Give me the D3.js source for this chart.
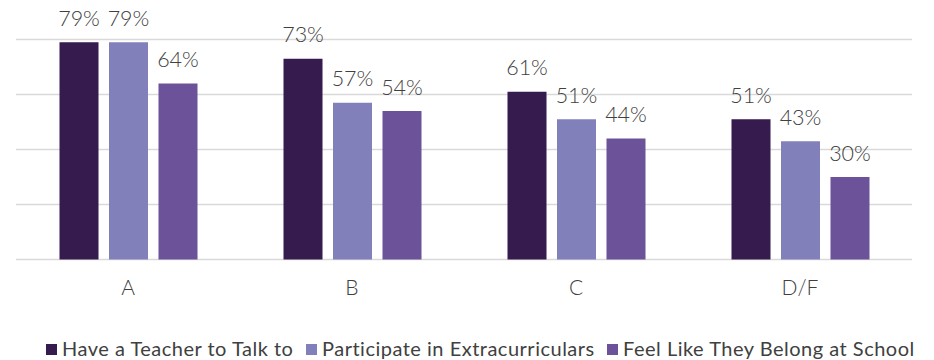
<!DOCTYPE html>
<html>
<head>
<meta charset="utf-8">
<script src="https://cdn.jsdelivr.net/npm/d3@7"></script>
<style>
  html, body { margin: 0; padding: 0; background: #fff; }
  svg { display: block; font-family: Lato, "Open Sans", sans-serif; }
</style>
</head>
<body>
<svg id="chart" width="934" height="360"></svg>
<script>
// Grade groups and the three survey measures (percent of students)
const grades = ["A", "B", "C", "D/F"];
const seriesNames = ["Have a Teacher to Talk to", "Participate in Extracurriculars", "Feel Like They Belong at School"];
const teacher = [79, 73, 61, 51];
const extracurriculars = [79, 57, 51, 43];
const belong = [64, 54, 44, 30];
const gridTicks = [0, 20, 40, 60, 80];
const colors = ["#361b4f", "#8280bb", "#6b5299"];

const seriesValues = [teacher, extracurriculars, belong];

const svg = d3.select("#chart");
const plot = { left: 16, right: 912, top: 39.5, bottom: 259.5 };
const groupWidth = 138;

const x0 = d3.scaleBand().domain(grades).range([plot.left, plot.right]);
const x1 = d3.scaleBand().domain(d3.range(seriesNames.length))
  .range([0, groupWidth]).paddingInner(0.212).paddingOuter(0);
const y = d3.scaleLinear().domain([0, 80]).range([plot.bottom, plot.top]);

// Horizontal gridlines
svg.append("g")
  .selectAll("line")
  .data(gridTicks)
  .join("line")
  .attr("x1", plot.left).attr("x2", plot.right)
  .attr("y1", d => y(d)).attr("y2", d => y(d))
  .attr("stroke", "#d9d9d9")
  .attr("stroke-width", 1.3);

// Bars with value labels
const groups = svg.append("g")
  .selectAll("g")
  .data(grades)
  .join("g")
  .attr("transform", g => `translate(${x0(g) + x0.bandwidth() / 2 - groupWidth / 2 + 0.5},0)`);

const cells = (g, gi) => seriesValues.map((vals, si) => ({ si, v: vals[gi] }));

groups.selectAll("rect")
  .data(cells)
  .join("rect")
  .attr("x", d => x1(d.si))
  .attr("width", x1.bandwidth())
  .attr("y", d => y(d.v))
  .attr("height", d => y(0) - y(d.v))
  .attr("fill", d => colors[d.si]);

groups.selectAll("text")
  .data(cells)
  .join("text")
  .attr("x", d => x1(d.si) + x1.bandwidth() / 2)
  .attr("y", d => y(d.v) - 16.5)
  .attr("text-anchor", "middle")
  .attr("font-size", 21.5)
  .attr("font-weight", 300)
  .attr("fill", "#404040")
  .text(d => d.v + "%");

// Category axis labels
const xAxis = d3.axisBottom(x0).tickSize(0).tickPadding(0);
const axisG = svg.append("g")
  .attr("transform", `translate(0,${plot.bottom})`)
  .call(xAxis);
axisG.select(".domain").remove();
axisG.selectAll("text")
  .attr("font-family", "Lato, sans-serif")
  .attr("font-size", 21)
  .attr("font-weight", 300)
  .attr("fill", "#404040")
  .attr("dy", 0)
  .attr("y", 35);

// Legend
const legendX = [46, 306, 607];
const legend = svg.append("g")
  .selectAll("g")
  .data(seriesNames)
  .join("g")
  .attr("transform", (d, i) => `translate(${legendX[i]},0)`);
legend.append("rect")
  .attr("x", 0).attr("y", 344)
  .attr("width", 11).attr("height", 11)
  .attr("fill", (d, i) => colors[i]);
legend.append("text")
  .attr("x", 16).attr("y", 355.5)
  .attr("font-size", 20)
  .attr("letter-spacing", 0.5)
  .attr("fill", "#404040")
  .text(d => d);
</script>
</body>
</html>
